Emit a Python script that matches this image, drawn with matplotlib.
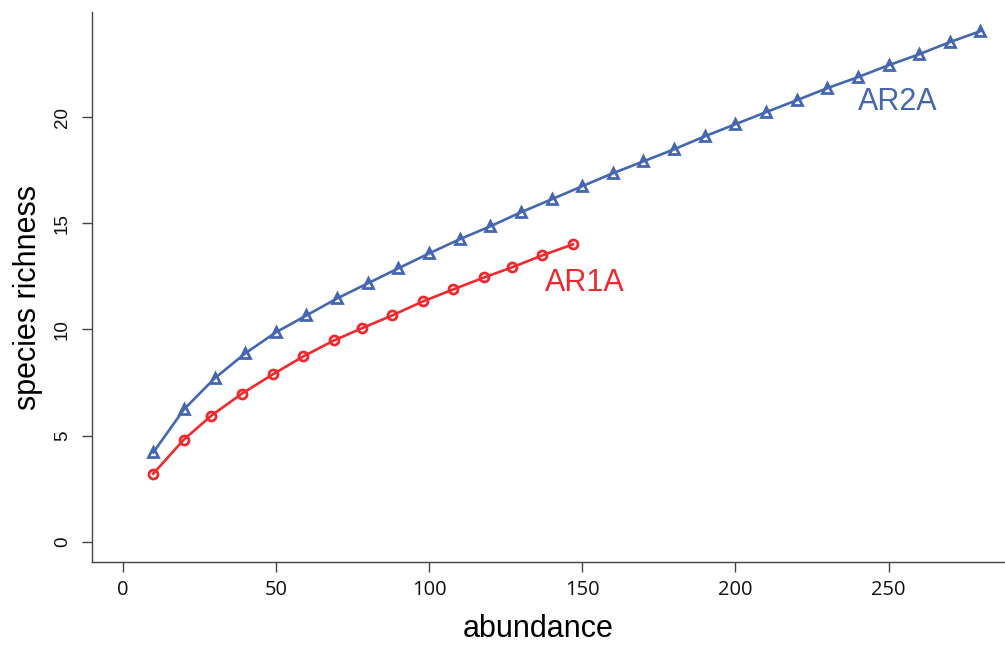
import matplotlib
matplotlib.use("Agg")
import matplotlib.pyplot as plt

# rarefaction curves
ar2a_n = [10, 20, 30, 40, 50, 60, 70, 80, 90, 100, 110, 120, 130, 140,
          150, 160, 170, 180, 190, 200, 210, 220, 230, 240, 250, 260, 270, 280]
ar2a_s = [4.2, 6.23, 7.69, 8.87, 9.86, 10.66, 11.46, 12.17, 12.88, 13.58,
          14.25, 14.86, 15.52, 16.13, 16.75, 17.36, 17.92, 18.49, 19.10, 19.67,
          20.24, 20.80, 21.37, 21.89, 22.45, 22.97, 23.54, 24.06]

ar1a_n = [10, 20, 29, 39, 49, 59, 69, 78, 88, 98, 108, 118, 127, 137, 147]
ar1a_s = [3.2, 4.81, 5.94, 6.98, 7.88, 8.73, 9.48, 10.05, 10.66, 11.32,
          11.89, 12.45, 12.92, 13.49, 14.01]

x_ticks = [0, 50, 100, 150, 200, 250]
y_ticks = [0, 5, 10, 15, 20]

blue = "#4566B1"
red = "#EE2A2E"

plt.rcParams["font.family"] = ["Liberation Sans", "DejaVu Sans"]

fig = plt.figure(figsize=(10.05, 6.45), dpi=100)
ax = fig.add_axes([0.0915, 0.1287, 0.9085, 0.8527])

ax.plot(ar2a_n, ar2a_s, color=blue, lw=1.9, marker="^", ms=7.5,
        mfc="none", mec=blue, mew=2.0)
ax.plot(ar1a_n, ar1a_s, color=red, lw=1.9, marker="o", ms=6.5,
        mfc="none", mec=red, mew=2.0)

ax.text(253, 20.7, "AR2A", color=blue, fontsize=22, ha="center", va="center")
ax.text(151, 12.2, "AR1A", color=red, fontsize=22, ha="center", va="center")

ax.set_xlim(-10, 288)
ax.set_ylim(-0.96, 24.96)
ax.set_xticks(x_ticks)
ax.set_yticks(y_ticks)
ax.set_xticklabels([str(t) for t in x_ticks], fontsize=14.5,
                   family=["Open Sans", "DejaVu Sans"])
ax.set_yticklabels([str(t) for t in y_ticks], fontsize=13.5,
                   rotation=90, va="center")

for side in ["top", "right"]:
    ax.spines[side].set_visible(False)
for side in ["left", "bottom"]:
    ax.spines[side].set_color("#444444")
    ax.spines[side].set_linewidth(1.0)
ax.tick_params(axis="both", direction="out", length=7, width=1.0,
               color="#444444", labelcolor="#111111")
ax.tick_params(axis="x", pad=6)
ax.tick_params(axis="y", pad=8)

ax.set_xlabel("abundance", fontsize=22, labelpad=10, x=0.489)
ax.set_ylabel("species richness", fontsize=22, labelpad=8, y=0.48)

fig.savefig("out.png", dpi=100)
